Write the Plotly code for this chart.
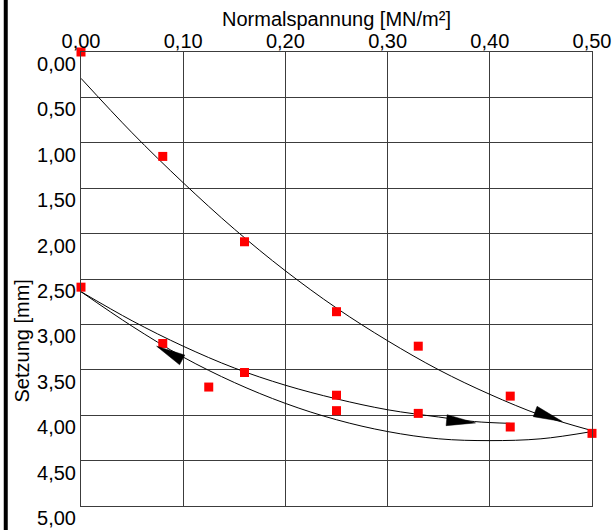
import plotly.graph_objects as go
import math

# ---- data ----
# measured points (red squares)
load_x = [0.00, 0.08, 0.16, 0.25, 0.33, 0.42, 0.50]
load_y = [0.00, 1.15, 2.09, 2.86, 3.24, 3.79, 4.20]
unload_x = [0.42, 0.25, 0.125, 0.08, 0.00]
unload_y = [4.13, 3.95, 3.69, 3.21, 2.59]
reload_x = [0.16, 0.25, 0.33]
reload_y = [3.53, 3.78, 3.98]

# trend curves
curve_x = [0.00, 0.05, 0.10, 0.15, 0.20, 0.25, 0.30, 0.35, 0.40, 0.45, 0.50]
curve_load_y = [0.29, 0.89, 1.44, 1.95, 2.41, 2.82, 3.18, 3.50, 3.77, 4.00, 4.17]
curve_unload_y = [2.64, 3.02, 3.36, 3.64, 3.87, 4.05, 4.18, 4.26, 4.28, 4.26, 4.18]
curve_reload_x = [0.00, 0.05, 0.10, 0.15, 0.20, 0.25, 0.30, 0.35, 0.385, 0.42]
curve_reload_y = [2.64, 2.96, 3.24, 3.48, 3.67, 3.82, 3.94, 4.02, 4.07, 4.09]

# arrows: tip and a point behind the tip (direction)
arrow_tip_x = [0.471, 0.386, 0.074]
arrow_tip_y = [4.07, 4.085, 3.24]
arrow_back_x = [0.4446, 0.356, 0.0985]
arrow_back_y = [3.96, 4.053, 3.388]

# axis ticks
x_tickvals = [0.0, 0.1, 0.2, 0.3, 0.4, 0.5]
x_ticktext = ["0,00", "0,10", "0,20", "0,30", "0,40", "0,50"]
y_tickvals = [0.0, 0.5, 1.0, 1.5, 2.0, 2.5, 3.0, 3.5, 4.0, 4.5, 5.0]
y_ticktext = ["0,00", "0,50", "1,00", "1,50", "2,00", "2,50", "3,00", "3,50", "4,00", "4,50", "5,00"]

x_title = "Normalspannung [MN/m²]"
y_title = "Setzung [mm]"

# ---- layout geometry ----
W, H = 612, 530
ML, MR, MT, MB = 81, 20, 52, 24
PW, PH = W - ML - MR, H - MT - MB
XR = [0.0, 0.5]
YR = [5.0, 0.0]
px_x = PW / (XR[1] - XR[0])
px_y = PH / (YR[0] - YR[1])

FONT = "Liberation Sans, Arial, sans-serif"
GRID = "#3c3c3c"

fig = go.Figure()

line_style = dict(color="black", width=1, shape="spline", smoothing=1.0)
fig.add_trace(go.Scatter(x=curve_x, y=curve_load_y, mode="lines", line=line_style,
                         hoverinfo="skip", showlegend=False))
fig.add_trace(go.Scatter(x=curve_x, y=curve_unload_y, mode="lines", line=line_style,
                         hoverinfo="skip", showlegend=False))
fig.add_trace(go.Scatter(x=curve_reload_x, y=curve_reload_y, mode="lines", line=line_style,
                         hoverinfo="skip", showlegend=False))

marker = dict(symbol="square", size=9, color="#ff0000", line=dict(width=0))
for xs, ys in [(load_x, load_y), (unload_x, unload_y), (reload_x, reload_y)]:
    fig.add_trace(go.Scatter(x=xs, y=ys, mode="markers", marker=marker,
                             cliponaxis=False, showlegend=False))

# arrowheads (slender filled triangles), built in pixel space
ALEN, AWID = 29.0, 11.0
shapes = []
for tx, ty, bx, by in zip(arrow_tip_x, arrow_tip_y, arrow_back_x, arrow_back_y):
    dxp = (bx - tx) * px_x
    dyp = (by - ty) * px_y  # y down positive since axis reversed
    L = math.hypot(dxp, dyp)
    ux, uy = dxp / L, dyp / L
    cx, cy = ALEN * ux, ALEN * uy
    nx, ny = -uy * AWID / 2, ux * AWID / 2
    p1 = (tx, ty)
    p2 = (tx + (cx + nx) / px_x, ty + (cy + ny) / px_y)
    p3 = (tx + (cx - nx) / px_x, ty + (cy - ny) / px_y)
    path = "M {} {} L {} {} L {} {} Z".format(p1[0], p1[1], p2[0], p2[1], p3[0], p3[1])
    shapes.append(dict(type="path", xref="x", yref="y", path=path,
                       fillcolor="black", line=dict(color="black", width=0.5)))

# black bar at left edge of the picture
bar_x = (5.75 - ML) / PW
shapes.append(dict(type="line", xref="paper", yref="paper", x0=bar_x, x1=bar_x,
                   y0=-0.1, y1=1.2, line=dict(color="black", width=4)))

annotations = [
    dict(text=x_title, xref="paper", yref="paper", x=0.5, y=(H - MB - 19) / PH,
         showarrow=False, xanchor="center", yanchor="middle",
         font=dict(family=FONT, size=20, color="black")),
    dict(text=y_title, xref="paper", yref="paper", x=(21 - ML) / PW, y=(H - MB - 341.5) / PH,
         showarrow=False, xanchor="center", yanchor="middle", textangle=-90,
         font=dict(family=FONT, size=20, color="black")),
]

fig.update_layout(
    template="none",
    width=W, height=H,
    margin=dict(l=ML, r=MR, t=MT, b=MB, pad=0, autoexpand=False),
    paper_bgcolor="white", plot_bgcolor="white",
    font=dict(family=FONT, size=20, color="black"),
    shapes=shapes, annotations=annotations,
    xaxis=dict(range=XR, side="top", tickvals=x_tickvals, ticktext=x_ticktext,
               automargin=False, ticklabelstandoff=-5,
               showgrid=True, gridcolor=GRID, gridwidth=1, zeroline=False,
               showline=True, linecolor=GRID, linewidth=1, mirror=True,
               ticks="", tickfont=dict(family=FONT, size=20, color="black")),
    yaxis=dict(range=YR, tickvals=y_tickvals, ticktext=y_ticktext,
               automargin=False,
               showgrid=True, gridcolor=GRID, gridwidth=1, zeroline=False,
               showline=True, linecolor=GRID, linewidth=1, mirror=True,
               ticks="", ticklabelshift=-12,
               tickfont=dict(family=FONT, size=20, color="black")),
    showlegend=False,
    hovermode=False,
)

fig.write_html("out.html",
               config={"displayModeBar": False, "staticPlot": True},
               post_script="document.body.style.margin='0px';document.body.style.overflow='hidden';")
